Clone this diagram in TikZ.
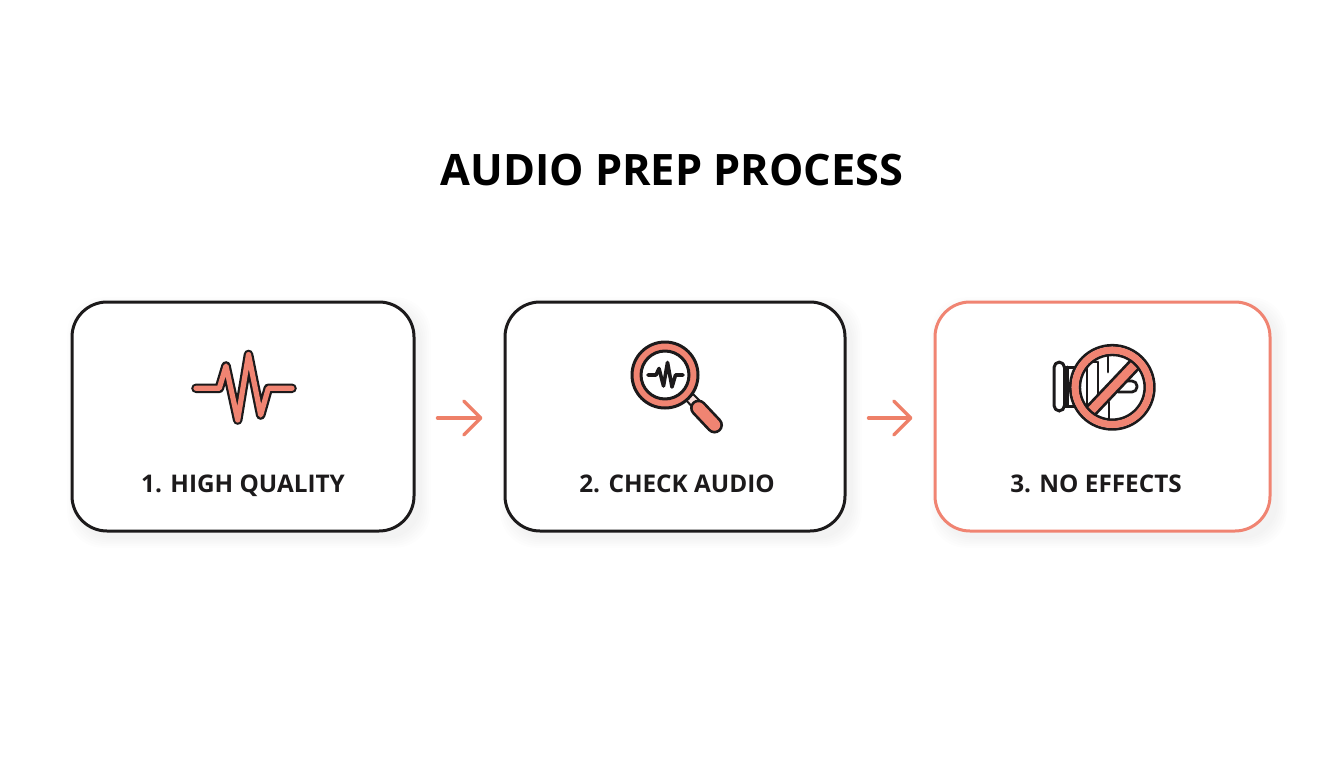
\documentclass[tikz,border=0pt]{standalone}
\usepackage{fontspec}
\setmainfont{Open Sans}
\usetikzlibrary{arrows.meta}
\definecolor{ink}{HTML}{1C1A1B}
\definecolor{salmon}{HTML}{F08472}
\definecolor{arrowc}{HTML}{EE8068}
\newcommand{\softshadow}[4]{%
  \foreach \k in {1,...,6}{
    \fill[black,opacity=0.006,rounded corners=36pt]
      ({#1+6-\k*1.8},{#2+6-\k*1.8}) rectangle ({#3+6+\k*1.8},{#4+6+\k*1.8});
  }}
\tikzset{
  x=1pt,y=-1pt,
  stepbox/.style={draw=ink,line width=3pt,rounded corners=35pt,fill=white,inner sep=0pt},
  stepbox red/.style={stepbox,draw=salmon},
  steplabel/.style={font=\fontsize{24.3}{30}\selectfont\bfseries,text=ink,inner sep=0pt,anchor=base},
  flow/.style={draw=arrowc,line width=3.4pt,line cap=round,shorten <=22pt,shorten >=21pt,
    -{Straight Barb[length=17pt,width=34pt,line width=3.4pt,round]}},
  iconline/.style={draw=ink,line width=3pt,line join=round,line cap=round},
}
\begin{document}
\begin{tikzpicture}
\useasboundingbox[fill=white] (0,0) rectangle (1344,768);
\node[font=\fontsize{43.3}{50}\selectfont\bfseries,text=black,inner sep=0pt,anchor=base] (title) at (672,185.5) {AUDIO PREP PROCESS};

\softshadow{72}{302}{414}{531}
\softshadow{505}{302}{845}{531}
\softshadow{935}{302}{1270}{531}

\node[stepbox,minimum width=342pt,minimum height=229pt] (box1) at (243,416.5) {};
\node[stepbox,minimum width=340pt,minimum height=229pt] (box2) at (675,416.5) {};
\node[stepbox red,minimum width=335pt,minimum height=229pt] (box3) at (1102.5,416.5) {};

\node[steplabel] (lab1) at (243,492) {1. HIGH QUALITY};
\node[steplabel] (lab2) at (677,492) {2. CHECK AUDIO};
\node[steplabel] (lab3) at (1096,492) {3. NO EFFECTS};

\draw[flow] ([yshift=-1.5pt]box1.east) -- ([yshift=-1.5pt]box2.west);
\draw[flow] ([yshift=-1.5pt]box2.east) -- ([yshift=-1.5pt]box3.west);

% waveform icon
\def\wavepath{(196,388.3) -- (219.3,388.3) -- (226,366) -- (237.7,420) -- (248.5,354.5) -- (260.7,415) -- (268.3,388.3) -- (292,388.3)}
\draw[ink,line width=9.6pt,line join=round,line cap=round] \wavepath;
\draw[salmon,line width=5.2pt,line join=round,line cap=round] \wavepath;

% magnifier icon
\draw[ink,line width=2pt,fill=salmon!25] (686,400) -- (693,394) -- (702,403) -- (695,410) -- cycle;
\draw[ink,line width=17pt,line cap=round] (698.5,408) -- (714.5,425);
\draw[salmon,line width=11.5pt,line cap=round] (698.5,408) -- (714.5,425);
\draw[iconline,fill=salmon] (665,375) circle[radius=33];
\draw[iconline,fill=white] (665,375) circle[radius=24];
\draw[ink,line width=3.6pt,line join=round,line cap=round] (648,375) -- (656,375) -- (659,368.5) -- (663.5,386) -- (667.5,362.5) -- (672,387) -- (675.5,375) -- (683,375);

% no-effects icon
\draw[iconline,fill=white,rounded corners=5.5pt] (1054,362) rectangle (1064.5,411);
\draw[iconline] (1064.5,367) -- (1075,367);
\draw[iconline] (1064.5,406) -- (1075,406);
\draw[iconline] (1067,367) -- (1067,406);
\begin{scope}
\clip (1112.3,387.3) circle[radius=33];
\draw[iconline,line width=2.8pt] (1087,350) -- (1087,425);
\draw[iconline,line width=2.8pt] (1098,362) -- (1098,402);
\draw[iconline,line width=2.8pt] (1097,362) -- (1086,362);
\draw[iconline,line width=2.8pt] (1108,350) -- (1108,372);
\draw[iconline,line width=2.8pt] (1109,402) -- (1109,425);
\draw[iconline,line width=2.8pt,rounded corners=5pt] (1118,381) -- (1137,381) -- (1137,392) -- (1118,392);
\end{scope}
\draw[ink,line width=14pt] (1086,416) -- (1138,361);
\draw[salmon,line width=8.5pt] (1086,416) -- (1138,361);
\draw[ink,line width=2.8pt] (1112.3,387.3) circle[radius=42];
\draw[ink,line width=2.8pt] (1112.3,387.3) circle[radius=32.5];
\draw[salmon,line width=7pt] (1112.3,387.3) circle[radius=37.2];
\end{tikzpicture}
\end{document}
